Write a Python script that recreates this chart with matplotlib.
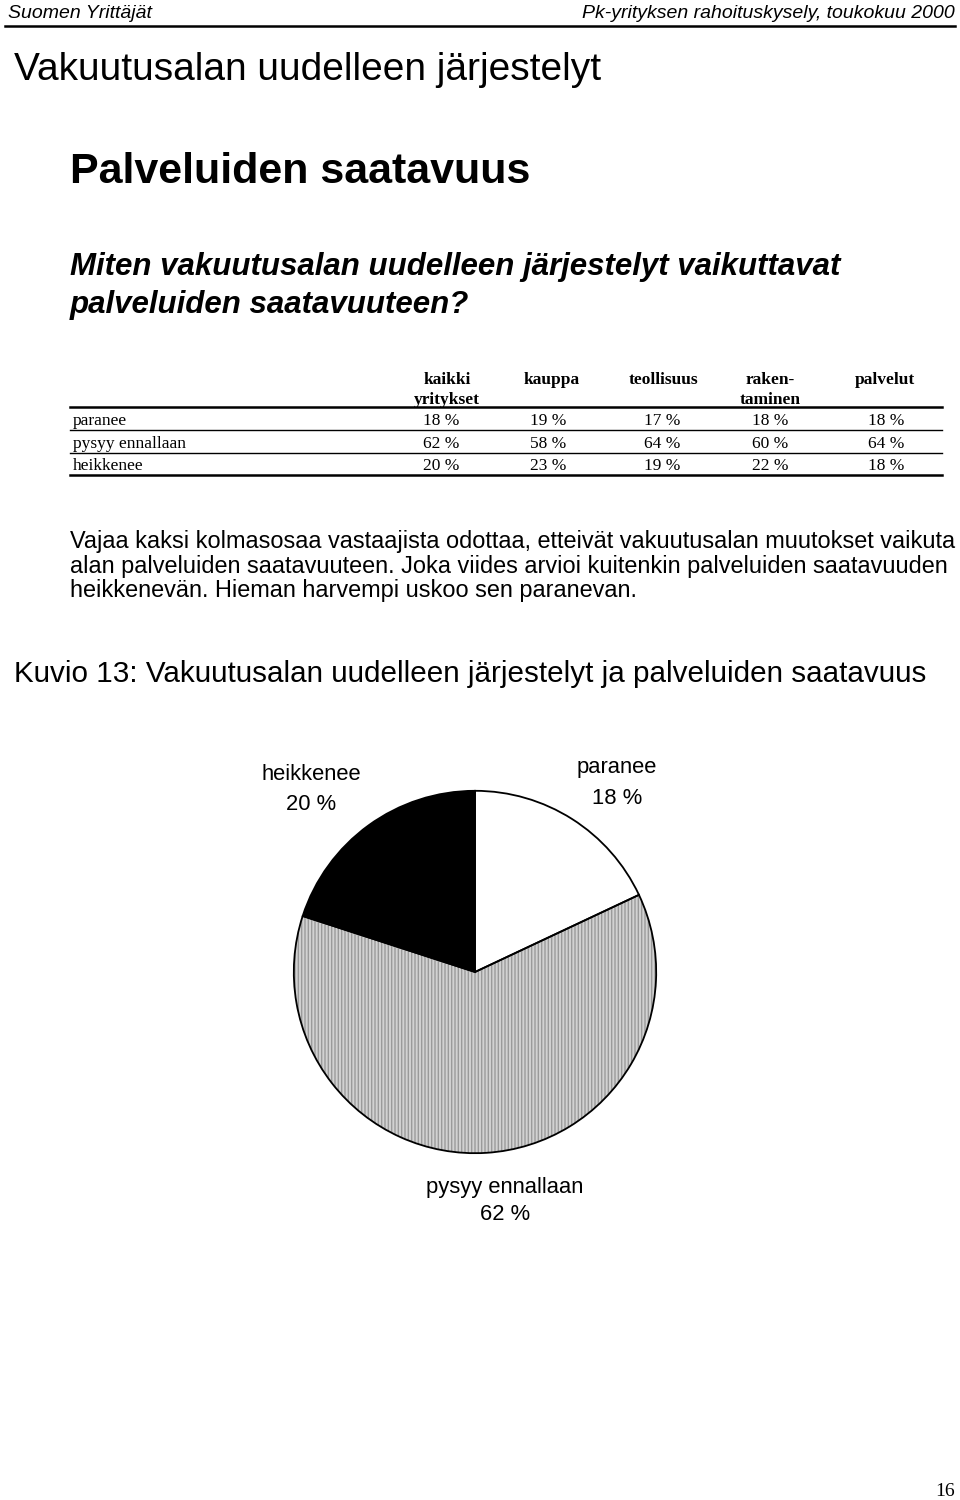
import numpy as np
import matplotlib
matplotlib.use("Agg")
import matplotlib.pyplot as plt
from matplotlib.lines import Line2D

W, H = 960, 1500

# table data
columns = ["kaikki\nyritykset", "kauppa", "teollisuus", "raken-\ntaminen", "palvelut"]
row_names = ["paranee", "pysyy ennallaan", "heikkenee"]
paranee = [18, 19, 17, 18, 18]
pysyy = [62, 58, 64, 60, 64]
heikkenee = [20, 23, 19, 22, 18]
table_vals = [paranee, pysyy, heikkenee]

# pie data (kaikki yritykset)
pie_labels = ["paranee", "pysyy ennallaan", "heikkenee"]
pie_vals = [18, 62, 20]

SANS = "Liberation Sans"
SERIF = "Liberation Serif"

fig = plt.figure(figsize=(W / 100, H / 100), dpi=100)


def px(x, y):
    return x / W, 1 - y / H


def txt(x, y, s, **kw):
    fig.text(*px(x, y), s, **kw)


def hline(x0, x1, y, lw=1.0):
    fig.add_artist(Line2D([x0 / W, x1 / W], [1 - y / H, 1 - y / H], color="black", lw=lw))


# header
txt(8, 13, "Suomen Yrittäjät", family=SANS, style="italic", fontsize=14, va="center")
txt(955, 13, "Pk-yrityksen rahoituskysely, toukokuu 2000", family=SANS, style="italic",
    fontsize=14, va="center", ha="right")
hline(5, 955, 26, lw=1.8)

txt(14, 70, "Vakuutusalan uudelleen järjestelyt", family=SANS, fontsize=28, va="center")
txt(70, 172, "Palveluiden saatavuus", family=SANS, fontsize=31, weight="bold", va="center")
txt(70, 267, "Miten vakuutusalan uudelleen järjestelyt vaikuttavat", family=SANS,
    fontsize=22.5, weight="bold", style="italic", va="center")
txt(70, 305, "palveluiden saatavuuteen?", family=SANS,
    fontsize=22.5, weight="bold", style="italic", va="center")

# table
col_x = [447, 552, 663, 770, 885]
val_x = [441, 548, 662, 770, 886]
for cx, c in zip(col_x, columns):
    txt(cx, 372, c, family=SERIF, fontsize=12.5, weight="bold", ha="center", va="top",
        linespacing=1.35)
hline(70, 942, 407, lw=1.8)
row_y = [421, 444, 466]
line_y = [430, 453, 475]
for ry, ly, name, vals in zip(row_y, line_y, row_names, table_vals):
    txt(73, ry, name, family=SERIF, fontsize=12.5, va="center")
    for vx, v in zip(val_x, vals):
        txt(vx, ry, f"{v} %", family=SERIF, fontsize=12.5, va="center", ha="center")
    hline(70, 942, ly, lw=1.8 if ly == line_y[-1] else 1.0)

# paragraph
para = ["Vajaa kaksi kolmasosaa vastaajista odottaa, etteivät vakuutusalan muutokset vaikuta",
        "alan palveluiden saatavuuteen. Joka viides arvioi kuitenkin palveluiden saatavuuden",
        "heikkenevän. Hieman harvempi uskoo sen paranevan."]
for i, line in enumerate(para):
    txt(70, 542 + i * 24, line, family=SANS, fontsize=16.9, va="center")

txt(14, 674, "Kuvio 13: Vakuutusalan uudelleen järjestelyt ja palveluiden saatavuus",
    family=SANS, fontsize=21.3, va="center")

# pie
ax = fig.add_axes([292 / W, 1 - 1155 / H, 366 / W, 366 / H])
fills = ["white", "#d2d2d2", "black"]
wedges, _ = ax.pie(pie_vals, startangle=90, counterclock=False, colors=fills,
                   wedgeprops=dict(linewidth=0))
wedges[1].set_hatch("|||||")
wedges[1].set_edgecolor("#9a9a9a")
ax.pie(pie_vals, startangle=90, counterclock=False, colors=["none"] * 3,
       wedgeprops=dict(linewidth=1.3, edgecolor="black"))
ax.set_xlim(-1.01, 1.01)
ax.set_ylim(-1.01, 1.01)
ax.axis("off")

label_pos = {"heikkenee": (311, 774, 804), "paranee": (617, 768, 798),
             "pysyy ennallaan": (505, 1187, 1215)}
for name, v in zip(pie_labels, pie_vals):
    x, y1, y2 = label_pos[name]
    txt(x, y1, name, family=SANS, fontsize=15.8, ha="center", va="center")
    txt(x, y2, f"{v} %", family=SANS, fontsize=15.8, ha="center", va="center")

txt(945, 1492, "16", family=SERIF, fontsize=14, ha="center", va="center")

fig.savefig("out.png", dpi=100)
